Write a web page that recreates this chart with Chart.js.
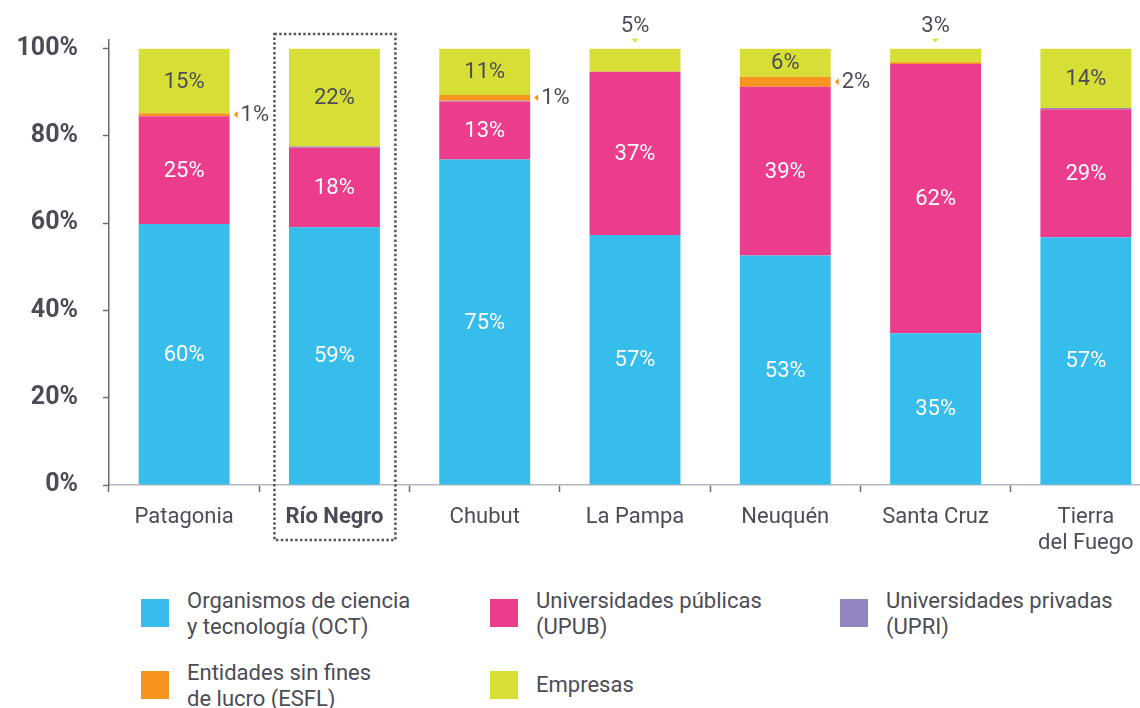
<!DOCTYPE html>
<html lang="es">
<head>
<meta charset="utf-8">
<script src="https://cdn.jsdelivr.net/npm/chart.js@4.4.1/dist/chart.umd.min.js"></script>
<style>
  body { margin: 0; width: 1140px; height: 708px; overflow: hidden; background: #fff; position: relative; font-family: Roboto, sans-serif; color: #4b4c57; }
  #wrap { position: absolute; left: 0; top: 0; width: 1162px; height: 560px; }
  .legend-item { position: absolute; font-size: 22px; line-height: 26px; padding-left: 46px; white-space: nowrap; }
  .legend-item .sw { position: absolute; left: 0; top: 11px; width: 28px; height: 28px; }
  .legend-item.single { padding-top: 12px; }
</style>
</head>
<body>
<div id="wrap"><canvas id="chart" width="1162" height="560"></canvas></div>
<div id="legend"></div>
<script>
// Datos (porcentajes por jurisdicción)
const categories = ["Patagonia", "Río Negro", "Chubut", "La Pampa", "Neuquén", "Santa Cruz", ["Tierra", "del Fuego"]];
const oct = [59.8, 59.1, 74.6, 57.3, 52.6, 34.8, 56.8];
const upub = [24.7, 18.2, 13.3, 37.4, 38.7, 61.7, 29.3];
const upri = [0.1, 0.3, 0.2, 0, 0, 0, 0.3];
const esfl = [0.6, 0.1, 1.3, 0, 2.3, 0.4, 0];
const empresas = [14.8, 22.3, 10.6, 5.3, 6.4, 3.1, 13.6];
const yTicks = [0, 20, 40, 60, 80, 100];

const seriesNames = [
  ["Organismos de ciencia", "y tecnología (OCT)"],
  ["Universidades públicas", "(UPUB)"],
  ["Universidades privadas", "(UPRI)"],
  ["Entidades sin fines", "de lucro (ESFL)"],
  ["Empresas"]
];
const colors = ["#36bdec", "#ec3d8d", "#9484bf", "#f7941e", "#d7df37"];
const textColor = "#4b4c57";

// Legend (HTML)
const legendPos = [[141, 588], [490, 588], [840, 588], [141, 660], [490, 660]];
const legend = document.getElementById("legend");
seriesNames.forEach((name, i) => {
  const item = document.createElement("div");
  item.className = "legend-item" + (name.length === 1 ? " single" : "");
  item.style.left = legendPos[i][0] + "px";
  item.style.top = legendPos[i][1] + "px";
  item.innerHTML = `<span class="sw" style="background:${colors[i]}"></span>${name.join("<br>")}`;
  legend.appendChild(item);
});

// Etiquetas de los segmentos
const segmentLabels = {
  id: "segmentLabels",
  afterDatasetsDraw(chart) {
    const ctx = chart.ctx;
    ctx.save();
    ctx.font = "22px Roboto";
    ctx.textBaseline = "middle";
    chart.data.datasets.forEach((ds, di) => {
      if (di === 2) return; // UPRI sin etiqueta
      chart.getDatasetMeta(di).data.forEach((bar, i) => {
        const v = ds.data[i];
        const r = Math.round(v);
        if (r < 1) return;
        const txt = r + "%";
        const cy = (bar.y + bar.base) / 2;
        const right = bar.x + bar.width / 2;
        if (di === 3) {
          // pointer to the right
          ctx.fillStyle = ds.backgroundColor;
          ctx.beginPath();
          ctx.moveTo(right + 4, cy);
          ctx.lineTo(right + 8, cy - 3.5);
          ctx.lineTo(right + 8, cy + 3.5);
          ctx.closePath();
          ctx.fill();
          ctx.fillStyle = textColor;
          ctx.textAlign = "left";
          ctx.fillText(txt, right + 11, cy + 1);
        } else if (di === 4 && v < 5.5) {
          // above the bar
          ctx.fillStyle = ds.backgroundColor;
          ctx.beginPath();
          ctx.moveTo(bar.x - 3.5, bar.y - 10);
          ctx.lineTo(bar.x + 3.5, bar.y - 10);
          ctx.lineTo(bar.x, bar.y - 6.5);
          ctx.closePath();
          ctx.fill();
          ctx.fillStyle = textColor;
          ctx.textAlign = "center";
          ctx.fillText(txt, bar.x, bar.y - 22);
        } else {
          ctx.fillStyle = di === 4 ? textColor : "#ffffff";
          ctx.textAlign = "center";
          ctx.fillText(txt, bar.x, cy + 1);
        }
      });
    });
    ctx.restore();
  }
};

// Recuadro punteado para Río Negro
const highlightBox = {
  id: "highlightBox",
  afterDraw(chart) {
    const ctx = chart.ctx;
    const x = chart.scales.x.getPixelForValue(1);
    const top = chart.chartArea.top - 6;
    const bottom = chart.chartArea.bottom + 55;
    ctx.save();
    ctx.strokeStyle = "#55565f";
    ctx.lineWidth = 2.5;
    ctx.setLineDash([2.5, 2.3]);
    ctx.strokeRect(x - 60, top, 121, bottom - top);
    ctx.restore();
  }
};

new Chart(document.getElementById("chart"), {
  type: "bar",
  data: {
    labels: categories,
    datasets: [
      { label: "OCT", data: oct, backgroundColor: colors[0] },
      { label: "UPUB", data: upub, backgroundColor: colors[1] },
      { label: "UPRI", data: upri, backgroundColor: colors[2] },
      { label: "ESFL", data: esfl, backgroundColor: colors[3] },
      { label: "Empresas", data: empresas, backgroundColor: colors[4] },
    ],
  },
  options: {
    responsive: false,
    animation: false,
    devicePixelRatio: 1,
    barPercentage: 0.605,
    categoryPercentage: 1,
    layout: { padding: { top: 38, right: 1, left: 0, bottom: 0 } },
    plugins: { legend: { display: false }, tooltip: { enabled: false } },
    scales: {
      x: {
        stacked: true,
        offset: true,
        border: { color: "#b5b7bf", width: 1.5 },
        grid: { offset: true, drawOnChartArea: false, drawTicks: true, tickLength: 7, tickColor: "#6b6c75", tickWidth: 1.5 },
        ticks: {
          color: textColor,
          padding: 13,
          maxRotation: 0,
          autoSkip: false,
          font: (c) => ({ family: "Roboto", size: 22, weight: c.index === 1 ? "bold" : "normal", lineHeight: 1.18 }),
        },
        afterFit(s) { s.height = 75; },
      },
      y: {
        stacked: true,
        min: 0,
        max: 102,
        border: { color: "#6b6c75", width: 1.5 },
        grid: { drawOnChartArea: false, drawTicks: true, tickLength: 6, tickColor: "#6b6c75", tickWidth: 1.5 },
        ticks: {
          color: textColor,
          padding: 25,
          font: { family: "Roboto", size: 25, weight: "bold" },
          callback: (v) => v + "%",
        },
        afterBuildTicks(s) { s.ticks = yTicks.map((v) => ({ value: v })); },
        afterFit(s) { s.width = 109; },
      },
    },
  },
  plugins: [segmentLabels, highlightBox],
});
</script>
</body>
</html>
